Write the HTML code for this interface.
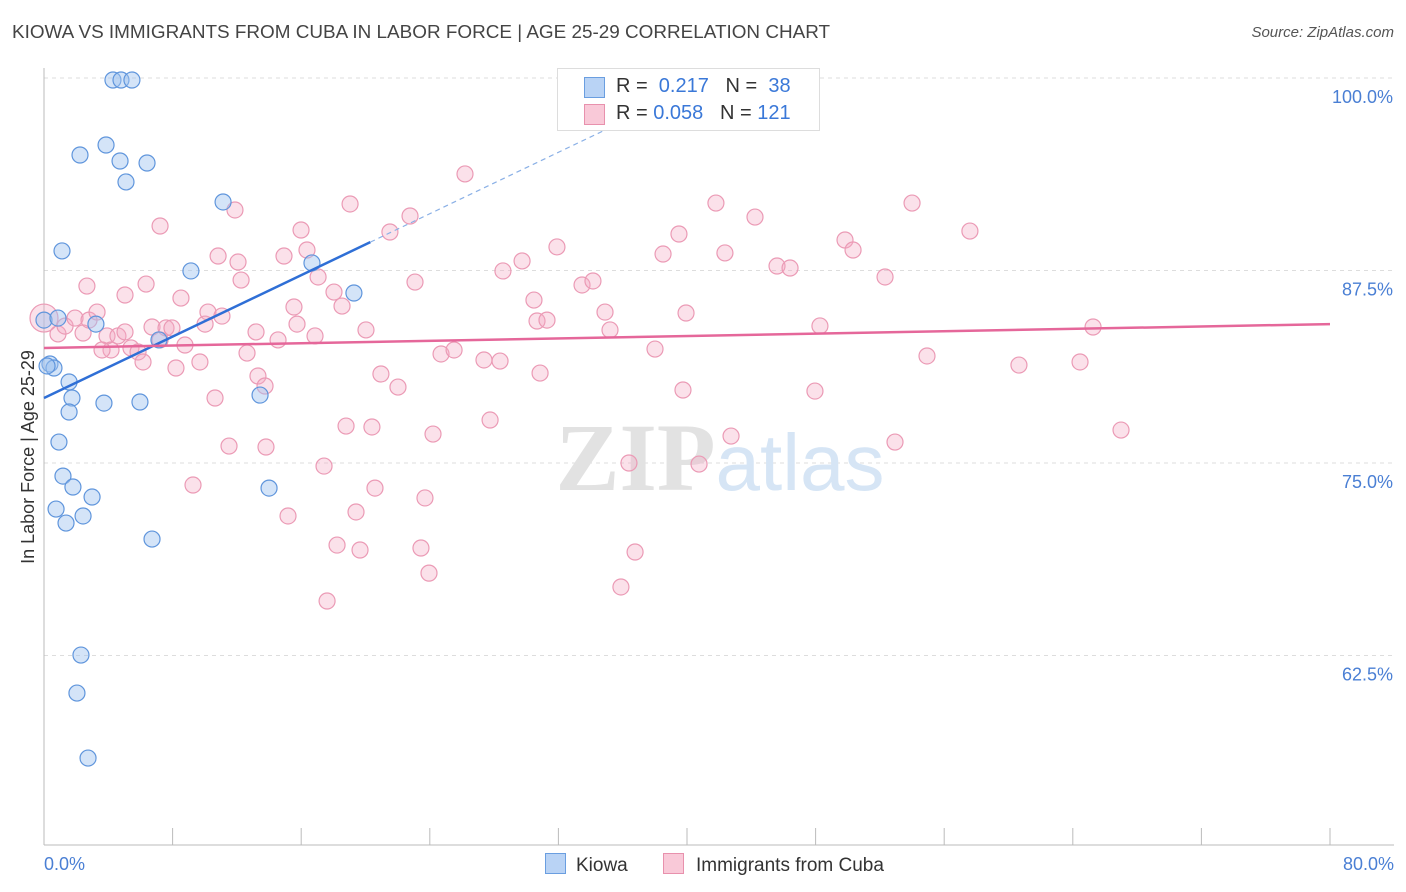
<!DOCTYPE html>
<html><head><meta charset="utf-8"><style>
body{margin:0;background:#fff;font-family:"Liberation Sans",sans-serif}
#wrap{position:relative;width:1406px;height:892px;overflow:hidden}
.t{position:absolute;white-space:nowrap}
</style></head><body>
<div id="wrap">
<div class="t" style="left:12px;top:22px;font-size:18.9px;color:#444">KIOWA VS IMMIGRANTS FROM CUBA IN LABOR FORCE | AGE 25-29 CORRELATION CHART</div>
<div class="t" style="right:12px;top:24px;font-size:15px;color:#555;font-style:italic">Source: ZipAtlas.com</div>
<svg id="svg" width="1406" height="892" style="position:absolute;left:0;top:0"></svg>
</div>
<script>
const xTickVals=[0,8,16,24,32,40,48,56,64,72,80];
const yGridVals=[100,87.5,75,62.5];
const yLabels=["100.0%","87.5%","75.0%","62.5%"];
const kiowaX=[4.29,4.79,5.47,3.86,2.24,4.73,6.41,5.10,11.14,1.12,9.14,16.67,19.28,0,0.87,3.23,7.15,0.37,0.62,1.56,1.74,3.73,5.97,13.44,1.56,0.93,1.18,1.80,2.99,14.0,0.75,2.43,1.37,6.72,2.30,2.05,2.74,0.19];
const kiowaY=[99.87,99.87,99.87,95.65,95.0,94.61,94.48,93.25,91.95,88.77,87.47,87.99,86.04,84.28,84.41,84.02,82.99,81.43,81.17,80.26,79.22,78.89,78.96,79.41,78.31,76.36,74.15,73.44,72.79,73.37,72.01,71.56,71.10,70.06,62.53,60.06,55.84,81.30];
const cubaX=[0,.87,1.31,1.93,2.43,2.80,3.30,2.67,3.92,4.17,3.61,4.60,5.04,5.04,5.41,5.85,6.16,6.35,6.72,7.22,7.22,7.59,7.96,8.21,8.52,8.77,9.27,9.70,10.02,10.20,10.64,10.83,11.07,11.51,11.88,12.07,12.26,12.63,13.19,13.31,13.75,13.81,14.56,14.93,15.18,15.55,15.74,15.99,16.36,16.86,17.05,17.42,17.61,18.04,18.23,18.54,18.79,19.04,19.41,19.66,20.03,20.40,20.59,20.96,21.52,22.02,22.77,23.08,23.45,23.70,23.95,24.20,24.70,25.51,26.19,27.37,27.75,28.37,28.55,29.74,30.48,30.67,30.86,31.29,31.91,33.47,34.15,34.90,35.21,35.89,36.39,36.77,38.01,38.51,39.50,39.75,39.94,40.75,41.80,42.36,42.74,44.23,45.60,46.41,47.96,48.27,49.83,50.33,52.32,52.94,54.0,54.93,57.60,60.65,64.45,65.26,67.0,47.03];
const cubaY=[84.41,83.38,83.89,84.41,83.44,84.28,84.80,86.49,83.25,82.34,82.34,83.25,83.51,85.91,82.47,82.21,81.56,86.62,83.83,90.39,82.99,83.77,83.77,81.17,85.71,82.66,73.57,81.56,84.02,84.80,79.22,88.44,84.54,76.10,91.43,88.05,86.88,82.14,83.51,80.65,80.0,76.04,82.99,88.44,71.56,85.13,84.02,90.13,88.83,83.25,87.08,74.80,66.04,86.10,69.67,85.19,77.40,91.82,71.82,69.35,83.64,77.34,73.37,80.78,90.0,79.93,91.04,86.75,69.48,72.73,67.85,76.88,82.08,82.34,93.77,81.69,77.79,81.62,87.47,88.12,85.58,84.22,80.84,84.28,89.03,86.56,86.82,84.80,83.64,66.95,75.0,69.22,82.40,88.57,89.87,79.74,84.74,74.93,91.88,88.64,76.75,90.97,87.79,87.66,79.67,83.90,89.48,88.83,87.08,76.36,91.88,81.95,90.06,81.36,81.56,83.83,77.14,98.18];
const kiowaTrend=[79.22,0.4986];
const cubaTrend=[82.47,84.02];
const X=v=>44+v*16.075, Y=v=>78+(100-v)*15.4;
const svg=document.getElementById('svg');const NS='http://www.w3.org/2000/svg';
function mk(t,a,p){const e=document.createElementNS(NS,t);for(const k in a)e.setAttribute(k,a[k]);(p||svg).appendChild(e);return e;}
yGridVals.forEach((v,i)=>{
 const l=mk('line',{x1:44,x2:1394,y1:Y(v),y2:Y(v),stroke:'#ddd','stroke-dasharray':'4,4'});
 
 
 const t=mk('text',{x:1393,y:Y(v)+25,'text-anchor':'end','font-size':18,fill:'#4a7fd4','font-family':'Liberation Sans'});t.textContent=yLabels[i];
 
 
});
const ax=mk('line',{x1:44,x2:44,y1:68,y2:845,stroke:'#bbb'});


const bx=mk('line',{x1:44,x2:1394,y1:845,y2:845,stroke:'#bbb'});


xTickVals.forEach(v=>{const l=mk('line',{x1:X(v),x2:X(v),y1:828,y2:845,stroke:'#bbb'});
 
 });
[[0,'0.0%','start',44],[80,'80.0%','end',1394]].forEach(d=>{const t=mk('text',{x:d[3],y:870,'text-anchor':d[2],'font-size':18,fill:'#4a7fd4','font-family':'Liberation Sans'});t.textContent=d[1];
 
 });
const yt=mk('text',{x:34,y:457,transform:'rotate(-90 34 457)','text-anchor':'middle','font-size':18,fill:'#333','font-family':'Liberation Sans'});yt.textContent='In Labor Force | Age 25-29';


const wm=mk('text',{x:720,y:490,'text-anchor':'middle','font-size':96,'font-family':'Liberation Serif',fill:'#e2e2e2','font-weight':'bold'});
wm.innerHTML='ZIP<tspan fill="#d6e5f5" font-family="Liberation Sans" font-weight="normal" font-size="80">atlas</tspan>';


cubaX.forEach((x,i)=>{const c=mk('circle',{cx:X(x),cy:Y(cubaY[i]),r:i==0?14:8,fill:'rgba(244,170,195,0.35)',stroke:'#eb9ab5','stroke-width':1.2});
 
 });
kiowaX.forEach((x,i)=>{const c=mk('circle',{cx:X(x),cy:Y(kiowaY[i]),r:8,fill:'rgba(160,195,240,0.45)',stroke:'#5f95dc','stroke-width':1.2});
 
 });
const kl=mk('line',{x1:X(0),y1:Y(kiowaTrend[0]),x2:X(20.3),y2:Y(kiowaTrend[0]+kiowaTrend[1]*20.3),stroke:'#2f6fd6','stroke-width':2.5});


const kd=mk('line',{x1:X(20.3),y1:Y(kiowaTrend[0]+kiowaTrend[1]*20.3),x2:X(36),y2:Y(kiowaTrend[0]+kiowaTrend[1]*36),stroke:'#8ab0e6','stroke-width':1.2,'stroke-dasharray':'5,4'});


const cl=mk('line',{x1:X(0),y1:Y(cubaTrend[0]),x2:X(80),y2:Y(cubaTrend[1]),stroke:'#e5679a','stroke-width':2.5});


</script>
<div style="position:absolute;left:557px;top:68px;width:261px;height:61px;border:1px solid #ddd;background:#fff;font-size:20px;color:#333">
 <div style="position:absolute;left:26px;top:8px;width:19px;height:19px;background:#b9d3f5;border:1px solid #6a9ee0"></div>
 <div class="t" style="left:58px;top:6px">R = <span style="color:#3a78d8">&nbsp;0.217</span>&nbsp;&nbsp;&nbsp;N = <span style="color:#3a78d8">&nbsp;38</span></div>
 <div style="position:absolute;left:26px;top:35px;width:19px;height:19px;background:#f9c9d8;border:1px solid #e891ad"></div>
 <div class="t" style="left:58px;top:33px">R = <span style="color:#3a78d8">0.058</span>&nbsp;&nbsp;&nbsp;N = <span style="color:#3a78d8">121</span></div>
</div>
<div style="position:absolute;left:545px;top:853px;font-size:19px;color:#333"><span style="display:inline-block;width:19px;height:19px;background:#b9d3f5;border:1px solid #6a9ee0;vertical-align:-3px;margin-right:10px"></span>Kiowa</div>
<div style="position:absolute;left:663px;top:853px;font-size:19px;color:#333"><span style="display:inline-block;width:19px;height:19px;background:#f9c9d8;border:1px solid #e891ad;vertical-align:-3px;margin-right:12px"></span>Immigrants from Cuba</div>
</body></html>
